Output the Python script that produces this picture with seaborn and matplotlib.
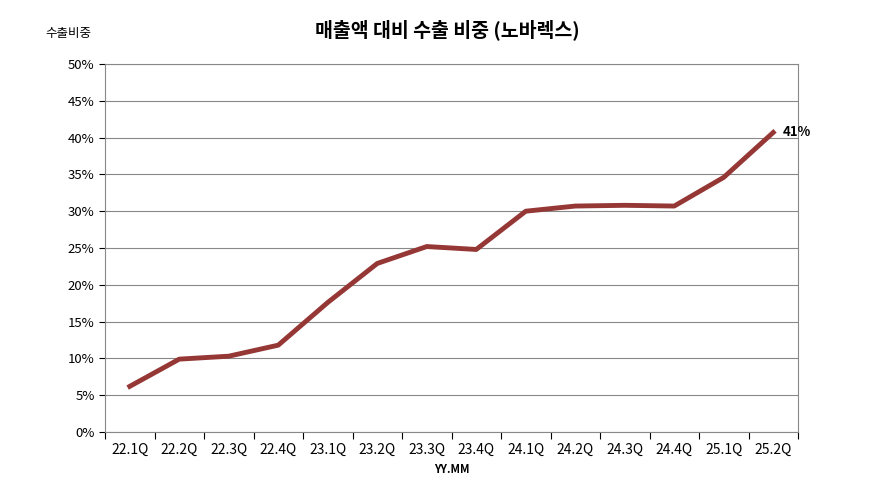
import matplotlib
matplotlib.use("Agg")
import matplotlib.pyplot as plt
from matplotlib import font_manager
import seaborn as sns
import pandas as pd
import numpy as np
from matplotlib.ticker import FixedLocator, PercentFormatter

# find an installed CJK font that has Korean glyphs
families = []
for f in font_manager.findSystemFonts():
    if 'CJK' in f or 'Cjk' in f:
        try:
            font_manager.fontManager.addfont(f)
            name = font_manager.FontProperties(fname=f).get_name()
            if name not in families:
                families.append(name)
        except Exception:
            pass
families.sort(key=lambda n: ('KR' not in n, n))
plt.rcParams['font.family'] = families + ['DejaVu Sans']

quarters = ['22.1Q', '22.2Q', '22.3Q', '22.4Q', '23.1Q', '23.2Q', '23.3Q',
            '23.4Q', '24.1Q', '24.2Q', '24.3Q', '24.4Q', '25.1Q', '25.2Q']
export_ratio = [6.2, 9.9, 10.3, 11.8, 17.6, 22.9, 25.2,
                24.8, 30.0, 30.7, 30.8, 30.7, 34.6, 40.7]

df = pd.DataFrame({'pos': np.arange(len(quarters)) + 0.5, 'ratio': export_ratio})

fig = plt.figure(figsize=(8.94, 4.98), dpi=100)
ax = fig.add_axes([105 / 894, 1 - 432 / 498, 693 / 894, 368 / 498])

sns.lineplot(data=df, x='pos', y='ratio', color='#953735', linewidth=3.5, ax=ax)

ax.set_xlim(0, len(quarters))
ax.set_ylim(0, 50)
ax.set_yticks(range(0, 51, 5))
ax.yaxis.set_major_formatter(PercentFormatter(decimals=0))
ax.set_xticks(np.arange(len(quarters) + 1))
ax.set_xticklabels([])
ax.xaxis.set_minor_locator(FixedLocator(df['pos']))
ax.set_xticklabels(quarters, minor=True)
ax.tick_params(axis='x', which='minor', length=0, pad=8)
ax.tick_params(axis='x', which='major', length=5, direction='out')
ax.tick_params(axis='y', length=4)
ax.tick_params(labelsize=9.5)
ax.grid(axis='y', color='#888888', linewidth=0.8)
ax.set_axisbelow(True)
for s in ax.spines.values():
    s.set_color('#888888')

ax.set_xlabel('YY.MM', fontsize=8, fontweight='bold', labelpad=4)
ax.set_ylabel('')
ax.text(len(quarters) - 0.5 + 0.2, export_ratio[-1], f'{export_ratio[-1]:.0f}%',
        fontsize=9.5, fontweight='bold', va='center')
fig.text(68 / 894, 1 - 33 / 498, '수출비중', fontsize=9, ha='center', va='center')
fig.text(447 / 894, 1 - 30 / 498, '매출액 대비 수출 비중 (노바렉스)', fontsize=14,
         fontweight='bold', ha='center', va='center')

fig.savefig('out.png', dpi=100)
